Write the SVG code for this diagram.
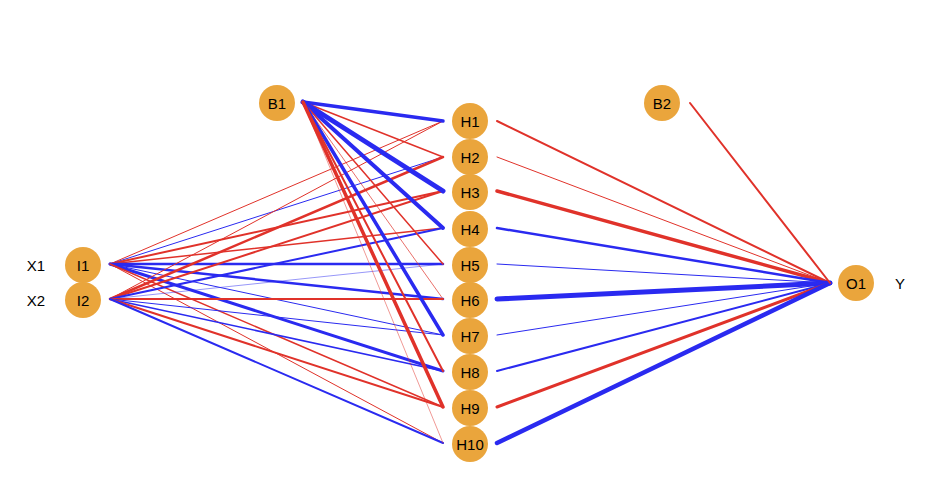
<svg xmlns="http://www.w3.org/2000/svg" width="933" height="494" viewBox="0 0 933 494">
<style>
.n{fill:#eaa53c}
text{font-family:"Liberation Sans",Arial,sans-serif;font-size:15px;fill:#000;text-anchor:middle;dominant-baseline:central}
.r{stroke:#e0322a;fill:none}
.b{stroke:#2a2af0;fill:none}
</style>
<rect width="933" height="494" fill="#fff"/>
<g id="connectors" stroke-linecap="round">
<line class="r" x1="110" y1="264" x2="443" y2="121" stroke-width="1"/>
<line class="b" x1="110" y1="264" x2="443" y2="157" stroke-width="1"/>
<line class="r" x1="110" y1="264" x2="443" y2="191" stroke-width="2"/>
<line class="r" x1="110" y1="264" x2="443" y2="228" stroke-width="1.5"/>
<line class="b" x1="110" y1="264" x2="443" y2="264" stroke-width="2.5"/>
<line class="b" x1="110" y1="264" x2="443" y2="299" stroke-width="2.5"/>
<line class="b" x1="110" y1="264" x2="443" y2="335" stroke-width="1"/>
<line class="b" x1="110" y1="264" x2="443" y2="371" stroke-width="3"/>
<line class="r" x1="110" y1="264" x2="443" y2="407" stroke-width="1.5"/>
<line class="r" x1="110" y1="264" x2="443" y2="443" stroke-width="1"/>
<line class="r" x1="110" y1="299" x2="443" y2="121" stroke-width="1"/>
<line class="r" x1="110" y1="299" x2="443" y2="157" stroke-width="2.5"/>
<line class="r" x1="110" y1="299" x2="443" y2="191" stroke-width="2"/>
<line class="b" x1="110" y1="299" x2="443" y2="228" stroke-width="2"/>
<line class="b" x1="110" y1="299" x2="443" y2="264" stroke-width="0.7" stroke-opacity="0.7"/>
<line class="r" x1="110" y1="299" x2="443" y2="299" stroke-width="2"/>
<line class="b" x1="110" y1="299" x2="443" y2="335" stroke-width="1"/>
<line class="b" x1="110" y1="299" x2="443" y2="371" stroke-width="1.5"/>
<line class="r" x1="110" y1="299" x2="443" y2="407" stroke-width="2"/>
<line class="b" x1="110" y1="299" x2="443" y2="443" stroke-width="2"/>
<line class="b" x1="303" y1="102" x2="443" y2="121" stroke-width="3.5"/>
<line class="r" x1="303" y1="102" x2="443" y2="157" stroke-width="1.5"/>
<line class="b" x1="303" y1="102" x2="443" y2="191" stroke-width="5"/>
<line class="b" x1="303" y1="102" x2="443" y2="228" stroke-width="4"/>
<line class="r" x1="303" y1="102" x2="443" y2="264" stroke-width="1.5"/>
<line class="r" x1="303" y1="102" x2="443" y2="299" stroke-width="0.7"/>
<line class="b" x1="303" y1="102" x2="443" y2="335" stroke-width="3.5"/>
<line class="r" x1="303" y1="102" x2="443" y2="371" stroke-width="2"/>
<line class="r" x1="303" y1="102" x2="443" y2="407" stroke-width="3.5"/>
<line class="r" x1="303" y1="102" x2="443" y2="443" stroke-width="0.5"/>
<line class="r" x1="497" y1="121" x2="830" y2="283" stroke-width="2"/>
<line class="r" x1="497" y1="157" x2="830" y2="283" stroke-width="1"/>
<line class="r" x1="497" y1="191" x2="830" y2="283" stroke-width="3.5"/>
<line class="b" x1="497" y1="228" x2="830" y2="283" stroke-width="2.5"/>
<line class="b" x1="497" y1="264" x2="830" y2="283" stroke-width="1"/>
<line class="b" x1="497" y1="299" x2="830" y2="283" stroke-width="5"/>
<line class="b" x1="497" y1="335" x2="830" y2="283" stroke-width="1"/>
<line class="b" x1="497" y1="371" x2="830" y2="283" stroke-width="2"/>
<line class="r" x1="497" y1="407" x2="830" y2="283" stroke-width="3"/>
<line class="b" x1="497" y1="443" x2="830" y2="283" stroke-width="4.5"/>
<line class="r" x1="690" y1="103" x2="830" y2="283" stroke-width="2"/>
</g>
<g id="I1"><circle class="n" cx="83" cy="265" r="18"/><text x="83" y="265">I1</text></g>
<g id="I2"><circle class="n" cx="83" cy="300" r="18"/><text x="83" y="300">I2</text></g>
<g id="B1"><circle class="n" cx="277" cy="103" r="18"/><text x="277" y="103">B1</text></g>
<g id="B2"><circle class="n" cx="662" cy="103" r="18"/><text x="662" y="103">B2</text></g>
<g id="O1"><circle class="n" cx="856" cy="283" r="18"/><text x="856" y="283">O1</text></g>
<g id="H1"><circle class="n" cx="470" cy="121" r="18"/><text x="470" y="121">H1</text></g>
<g id="H2"><circle class="n" cx="470" cy="157" r="18"/><text x="470" y="157">H2</text></g>
<g id="H3"><circle class="n" cx="470" cy="192" r="18"/><text x="470" y="192">H3</text></g>
<g id="H4"><circle class="n" cx="470" cy="229" r="18"/><text x="470" y="229">H4</text></g>
<g id="H5"><circle class="n" cx="470" cy="265" r="18"/><text x="470" y="265">H5</text></g>
<g id="H6"><circle class="n" cx="470" cy="300" r="18"/><text x="470" y="300">H6</text></g>
<g id="H7"><circle class="n" cx="470" cy="336" r="18"/><text x="470" y="336">H7</text></g>
<g id="H8"><circle class="n" cx="470" cy="372" r="18"/><text x="470" y="372">H8</text></g>
<g id="H9"><circle class="n" cx="470" cy="408" r="18"/><text x="470" y="408">H9</text></g>
<g id="H10"><circle class="n" cx="470" cy="444" r="18"/><text x="470" y="444">H10</text></g>
<g id="labels"><text x="36" y="265">X1</text><text x="36" y="300">X2</text><text x="900" y="283">Y</text></g>
</svg>
